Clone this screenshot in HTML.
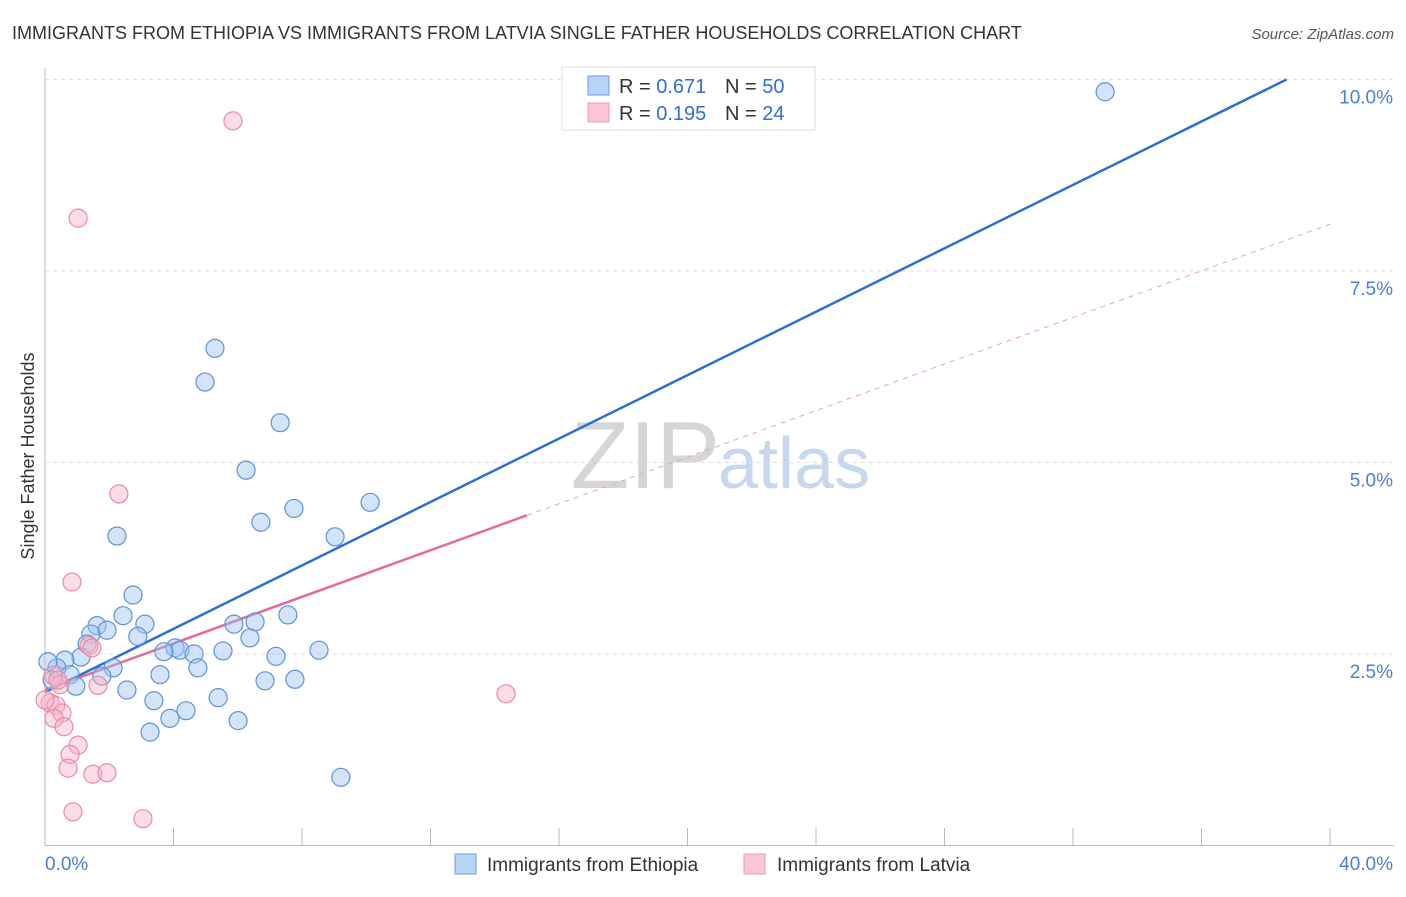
<!DOCTYPE html>
<html><head><meta charset="utf-8"><style>
body{margin:0;background:#fff;font-family:"Liberation Sans",sans-serif;}
svg text{font-family:"Liberation Sans",sans-serif;}
</style></head><body>
<svg id="chart" width="1406" height="892" xmlns="http://www.w3.org/2000/svg">
<text x="12" y="39" font-size="18" fill="#333">IMMIGRANTS FROM ETHIOPIA VS IMMIGRANTS FROM LATVIA SINGLE FATHER HOUSEHOLDS CORRELATION CHART</text>
<text x="1394" y="39" font-size="15" fill="#555" text-anchor="end" font-style="italic">Source: ZipAtlas.com</text>
<text x="720" y="488" font-size="96" fill="#d6d6d6" text-anchor="end" font-family="Liberation Serif">ZIP</text>
<text x="718" y="488" font-size="72" fill="#c5d8f0">atlas</text>
<g id="grid"></g>
<g id="axes"></g>
<g id="lines"></g>
<g id="pts"></g>
<text transform="translate(34,456) rotate(-90)" font-size="18" fill="#333" text-anchor="middle">Single Father Households</text>
<g>
<rect x="562" y="67" width="253" height="63" fill="#fff" stroke="#ddd"/>
<rect x="588" y="76" width="21" height="19" fill="#b8d4f6" stroke="#6a9fe0"/>
<rect x="588" y="103" width="21" height="19" fill="#f9c6d5" stroke="#ec9ab3"/>
<text x="619" y="93" font-size="20" fill="#333">R = <tspan fill="#2f6fd6">0.671</tspan></text>
<text x="725" y="93" font-size="20" fill="#333">N = <tspan fill="#2f6fd6">50</tspan></text>
<text x="619" y="120" font-size="20" fill="#333">R = <tspan fill="#2f6fd6">0.195</tspan></text>
<text x="725" y="120" font-size="20" fill="#333">N = <tspan fill="#2f6fd6">24</tspan></text>
</g>
<g>
<rect x="455" y="854" width="21" height="20" fill="#b8d4f6" stroke="#6a9fe0"/>
<text x="487" y="871" font-size="19" fill="#333">Immigrants from Ethiopia</text>
<rect x="744" y="854" width="21" height="20" fill="#f9c6d5" stroke="#ec9ab3"/>
<text x="777" y="871" font-size="19" fill="#333">Immigrants from Latvia</text>
</g>
</svg>
<script>
const blueX=[33.0,5.29,4.98,7.32,6.26,10.12,7.75,6.72,2.24,9.03,2.74,2.43,7.56,3.11,1.62,5.88,1.93,1.43,2.89,6.54,6.38,4.05,4.20,3.70,4.64,5.54,7.19,8.53,1.31,1.12,0.62,2.12,4.76,3.58,0.37,0.78,0.09,1.77,6.85,7.78,2.55,0.96,3.39,5.39,4.39,3.89,6.01,3.27,9.21,0.22];
const blueY=[9.84,6.49,6.05,5.52,4.90,4.48,4.40,4.22,4.04,4.03,3.27,3.00,3.01,2.89,2.87,2.89,2.81,2.76,2.73,2.92,2.71,2.58,2.55,2.53,2.50,2.54,2.47,2.55,2.63,2.46,2.42,2.32,2.32,2.23,2.32,2.23,2.40,2.21,2.15,2.17,2.03,2.08,1.89,1.93,1.76,1.66,1.63,1.48,0.89,2.16];
const pinkX=[5.85,1.03,2.30,0.84,1.37,1.46,1.65,0.25,0.47,0.16,0.34,0.53,0.28,0.59,1.03,0.78,0.72,1.49,1.93,0.87,3.05,14.35,0.40,0.0];
const pinkY=[9.46,8.19,4.59,3.44,2.61,2.58,2.09,2.22,2.10,1.86,1.83,1.73,1.66,1.55,1.31,1.19,1.01,0.93,0.95,0.44,0.35,1.98,2.16,1.90];
const yTicks=[2.5,5.0,7.5,10.0];
const xTickVals=[0,4,8,12,16,20,24,28,32,36,40];
const blueTrend=[2.0,0.207];
const pinkTrend=[2.03,0.152];
const pinkSolidEnd=15;
const NS='http://www.w3.org/2000/svg';
const sx=v=>45+v*32.125, sy=v=>845.5-v*76.6;
function mk(t,a,p){const e=document.createElementNS(NS,t);for(const k in a)e.setAttribute(k,a[k]);document.getElementById(p).appendChild(e);return e;}
yTicks.forEach(v=>{
 const l=mk('line',{x1:45,x2:1394,y1:sy(v),y2:sy(v),stroke:'#ddd','stroke-dasharray':'4,4'},'grid');
 
 
 const t=mk('text',{x:1393,y:sy(v)+24,'font-size':19,fill:'#4a7fd6','text-anchor':'end'},'grid');
 t.textContent=v.toFixed(1)+'%';
 
 
});
const ax=mk('line',{x1:45,x2:1394,y1:845.5,y2:845.5,stroke:'#bbb'},'axes');


const ay=mk('line',{x1:45,x2:45,y1:68,y2:845.5,stroke:'#bbb'},'axes');


xTickVals.forEach(v=>{
 const l=mk('line',{x1:sx(v),x2:sx(v),y1:828,y2:845.5,stroke:'#bbb'},'axes');
 
 
});
const x0=mk('text',{x:45,y:870,'font-size':19,fill:'#4a7fd6'},'axes');x0.textContent='0.0%';


const x1=mk('text',{x:1393,y:870,'font-size':19,fill:'#4a7fd6','text-anchor':'end'},'axes');x1.textContent='40.0%';


// points
blueX.forEach((x,i)=>{
 const c=mk('circle',{cx:sx(x),cy:sy(blueY[i]),r:9,fill:'rgba(160,195,240,0.45)',stroke:'#5b93d8','stroke-width':1.2},'pts');
 
 
});
pinkX.forEach((x,i)=>{
 const c=mk('circle',{cx:sx(x),cy:sy(pinkY[i]),r:9,fill:'rgba(246,180,200,0.45)',stroke:'#e88aa8','stroke-width':1.2},'pts');
 
 
});
// trend lines
const bEnd=(10-blueTrend[0])/blueTrend[1];
const bl=mk('line',{x1:sx(0),y1:sy(blueTrend[0]),x2:sx(bEnd),y2:sy(10),stroke:'#2a6fd6','stroke-width':2.5},'lines');


const pl=mk('line',{x1:sx(0),y1:sy(pinkTrend[0]),x2:sx(pinkSolidEnd),y2:sy(pinkTrend[0]+pinkTrend[1]*pinkSolidEnd),stroke:'#e46b95','stroke-width':2.5},'lines');


const pd=mk('line',{x1:sx(pinkSolidEnd),y1:sy(pinkTrend[0]+pinkTrend[1]*pinkSolidEnd),x2:sx(40),y2:sy(pinkTrend[0]+pinkTrend[1]*40),stroke:'#e9a0b8','stroke-width':1,'stroke-dasharray':'5,5'},'lines');


</script>
</body></html>
